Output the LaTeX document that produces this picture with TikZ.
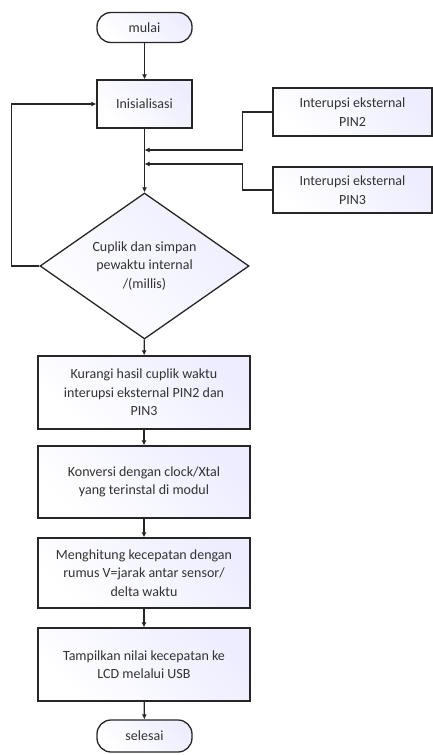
\documentclass[tikz,border=0pt]{standalone}
\usepackage{fontspec}
\setmainfont{Carlito}
\usetikzlibrary{shapes.geometric,arrows.meta}
\begin{document}
\begin{tikzpicture}[x=1pt,y=-1pt,
    every node/.style={font=\fontsize{14}{18.5}\selectfont, text=black!80, align=center, inner sep=2pt},
    boxfill/.style={draw=black!85, line width=1.3pt, top color=blue!7!white, bottom color=white, shading angle=-45},
    proses/.style={boxfill, rectangle, minimum width=212pt},
    terminal/.style={boxfill, rectangle, rounded corners=14pt, minimum width=95pt, minimum height=30pt},
    keputusan/.style={boxfill, diamond, aspect=1.43, minimum width=209pt, minimum height=146pt, inner sep=0pt},
    panah/.style={line width=1.2pt, black!85, -{Latex[length=5pt,width=5pt]}}]
    \useasboundingbox (0,0) rectangle (433,755);

    \node[terminal] (mulai) at (144.5,27.5) {mulai};
    \node[boxfill, minimum width=95pt, minimum height=48pt] (init) at (144.5,104) {Inisialisasi};
    \node[boxfill, minimum width=159pt, minimum height=48pt] (pin2) at (352.5,112) {Interupsi eksternal\\PIN2};
    \node[boxfill, minimum width=159pt, minimum height=46pt] (pin3) at (352.5,190) {Interupsi eksternal\\PIN3};
    \node[keputusan] (cuplik) at (144.5,266) {Cuplik dan simpan\\pewaktu internal\\/(millis)};
    \node[proses, minimum height=73pt] (kurangi) at (144,392.5) {Kurangi hasil cuplik waktu\\interupsi eksternal PIN2 dan\\PIN3};
    \node[proses, minimum height=72pt] (konversi) at (144,482) {Konversi dengan clock/Xtal\\yang terinstal di modul};
    \node[proses, minimum height=70pt] (hitung) at (144,573) {Menghitung kecepatan dengan\\rumus V=jarak antar sensor/\\delta waktu};
    \node[proses, minimum height=73pt] (tampil) at (144,664.5) {Tampilkan nilai kecepatan ke\\LCD melalui USB};
    \node[terminal, minimum height=32pt] (selesai) at (144.5,736) {selesai};

    % titik masuk interupsi pada jalur utama
    \coordinate (j2) at (144.5,150);
    \coordinate (j3) at (144.5,164);

    \draw[panah] (mulai) -- (init);
    \draw[panah] (init) -- (cuplik);
    \draw[panah] (pin2.west) -- ++(-30,0) |- (j2);
    \draw[panah] (pin3.west) -- ++(-30,0) |- (j3);
    \draw[panah] (cuplik.west) -- ++(-28,0) |- (init.west);
    \draw[panah] (cuplik) -- (kurangi);
    \draw[panah] (kurangi) -- (konversi);
    \draw[panah] (konversi) -- (hitung);
    \draw[panah] (hitung) -- (tampil);
    \draw[panah] (tampil) -- (selesai);
\end{tikzpicture}
\end{document}
